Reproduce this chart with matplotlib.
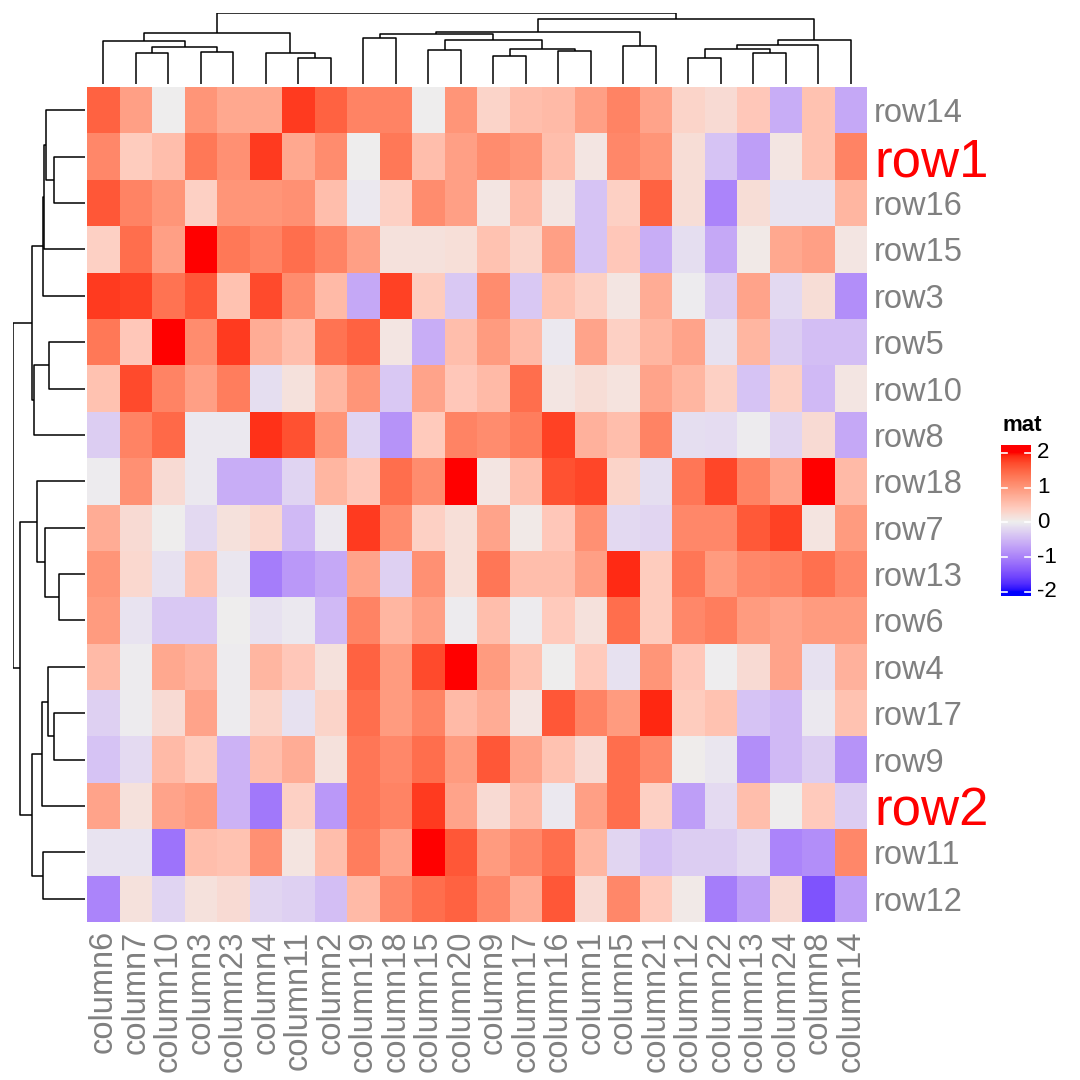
import numpy as np
import matplotlib
matplotlib.use("Agg")
import matplotlib.pyplot as plt
from matplotlib.colors import ListedColormap

plt.rcParams['font.family'] = ['Liberation Sans', 'DejaVu Sans']

# labels in the order they are shown (after clustering)
row_labels = ['row14', 'row1', 'row16', 'row15', 'row3', 'row5', 'row10', 'row8', 'row18',
              'row7', 'row13', 'row6', 'row4', 'row17', 'row9', 'row2', 'row11', 'row12']
col_labels = ['column6', 'column7', 'column10', 'column3', 'column23', 'column4', 'column11',
              'column2', 'column19', 'column18', 'column15', 'column20', 'column9', 'column17',
              'column16', 'column1', 'column5', 'column21', 'column12', 'column22', 'column13',
              'column24', 'column8', 'column14']
highlight = ['row1', 'row2']

mat = [
    [1.5, 0.9, 0.0, 1.0, 0.8, 0.8, 1.8, 1.5, 1.2, 1.2, 0.0, 1.0, 0.3, 0.55, 0.6, 0.9, 1.2, 0.85, 0.3, 0.22, 0.45, -0.6, 0.5, -0.65],
    [1.15, 0.4, 0.55, 1.3, 1.05, 1.8, 0.8, 1.1, 0.0, 1.3, 0.55, 0.9, 1.1, 1.0, 0.55, 0.1, 1.15, 1.0, 0.2, -0.4, -0.75, 0.1, 0.5, 1.2],
    [1.6, 1.2, 1.0, 0.35, 1.0, 1.0, 1.05, 0.55, -0.05, 0.35, 1.1, 0.9, 0.1, 0.6, 0.1, -0.4, 0.35, 1.5, 0.2, -1.0, 0.2, -0.1, -0.1, 0.65],
    [0.35, 1.4, 0.9, 2.0, 1.3, 1.2, 1.4, 1.2, 0.9, 0.15, 0.15, 0.18, 0.5, 0.3, 0.9, -0.4, 0.45, -0.6, -0.15, -0.65, 0.05, 0.8, 0.9, 0.1],
    [1.8, 1.75, 1.35, 1.6, 0.5, 1.7, 1.1, 0.6, -0.65, 1.75, 0.4, -0.35, 1.1, -0.35, 0.5, 0.35, 0.1, 0.75, -0.02, -0.3, 0.85, -0.2, 0.2, -0.9],
    [1.3, 0.45, 2.0, 1.1, 1.8, 0.75, 0.55, 1.35, 1.5, 0.1, -0.6, 0.55, 0.95, 0.6, -0.05, 0.85, 0.35, 0.65, 0.85, -0.12, 0.65, -0.3, -0.45, -0.45],
    [0.5, 1.7, 1.2, 0.9, 1.25, -0.15, 0.15, 0.65, 1.0, -0.35, 0.85, 0.45, 0.6, 1.4, 0.1, 0.2, 0.13, 0.85, 0.65, 0.35, -0.4, 0.35, -0.5, 0.1],
    [-0.3, 1.2, 1.45, -0.05, -0.05, 1.85, 1.65, 1.0, -0.25, -0.85, 0.42, 1.2, 1.1, 1.25, 1.75, 0.7, 0.55, 1.2, -0.15, -0.17, -0.02, -0.22, 0.22, -0.65],
    [-0.03, 1.05, 0.22, -0.05, -0.6, -0.6, -0.25, 0.65, 0.45, 1.4, 1.1, 2.0, 0.1, 0.55, 1.65, 1.72, 0.3, -0.15, 1.32, 1.72, 1.2, 0.85, 2.0, 0.6],
    [0.75, 0.22, 0.0, -0.2, 0.15, 0.25, -0.5, -0.05, 1.8, 1.1, 0.35, 0.18, 0.85, 0.05, 0.45, 1.05, -0.2, -0.23, 1.15, 1.15, 1.58, 1.75, 0.12, 0.95],
    [1.0, 0.25, -0.12, 0.5, -0.07, -1.05, -0.8, -0.65, 0.85, -0.28, 1.05, 0.18, 1.32, 0.55, 0.55, 0.9, 1.88, 0.4, 1.32, 0.95, 1.15, 1.2, 1.38, 1.15],
    [0.95, -0.1, -0.35, -0.35, 0.0, -0.12, -0.06, -0.5, 1.2, 0.65, 0.9, -0.03, 0.55, -0.02, 0.42, 0.15, 1.4, 0.4, 1.15, 1.25, 0.95, 0.85, 0.95, 0.95],
    [0.6, -0.02, 0.8, 0.7, -0.02, 0.65, 0.45, 0.15, 1.5, 0.95, 1.7, 2.0, 0.95, 0.5, 0.0, 0.42, -0.12, 1.0, 0.45, -0.01, 0.22, 0.85, -0.12, 0.7],
    [-0.28, -0.03, 0.22, 0.85, -0.03, 0.3, -0.12, 0.3, 1.4, 0.95, 1.2, 0.6, 0.75, 0.1, 1.6, 1.2, 0.95, 1.9, 0.4, 0.5, -0.4, -0.5, -0.05, 0.5],
    [-0.4, -0.18, 0.6, 0.4, -0.55, 0.55, 0.75, 0.15, 1.32, 1.15, 1.4, 0.95, 1.6, 0.85, 0.5, 0.22, 1.4, 1.15, 0.02, -0.07, -0.9, -0.5, -0.3, -0.85],
    [0.85, 0.15, 0.85, 0.95, -0.55, -1.1, 0.35, -0.8, 1.32, 1.2, 1.8, 0.85, 0.22, 0.6, -0.05, 0.9, 1.4, 0.35, -0.75, -0.18, 0.55, 0.0, 0.42, -0.3],
    [-0.1, -0.1, -1.15, 0.55, 0.5, 1.05, 0.12, 0.55, 1.25, 0.85, 2.0, 1.6, 0.95, 1.15, 1.4, 0.65, -0.22, -0.42, -0.3, -0.3, -0.2, -1.0, -0.9, 1.15],
    [-1.0, 0.15, -0.25, 0.15, 0.22, -0.22, -0.27, -0.45, 0.6, 1.15, 1.4, 1.5, 1.15, 0.75, 1.6, 0.22, 1.15, 0.42, 0.05, -1.05, -0.75, 0.22, -1.45, -0.75],
]

# dendrogram merges: (left, right, height); leaves are display positions,
# new nodes get ids n, n+1, ... like a linkage matrix
col_merges = [
    (1, 2, 31.7), (3, 4, 32.0), (24, 25, 37.7), (0, 26, 43.7), (6, 7, 26.7),
    (5, 28, 31.0), (27, 29, 51.0), (8, 9, 46.3), (10, 11, 34.3), (12, 13, 28.7),
    (14, 15, 33.3), (33, 34, 35.0), (32, 35, 44.0), (31, 36, 50.0), (16, 17, 38.7),
    (37, 38, 52.0), (18, 19, 26.7), (20, 21, 31.7), (40, 41, 35.7), (42, 22, 39.0),
    (43, 23, 44.3), (39, 44, 65.3), (30, 45, 71.0),
]
row_merges = [
    (1, 2, 30.7), (0, 18, 39.3), (19, 3, 40.7), (20, 4, 42.3), (5, 6, 35.7),
    (22, 7, 51.3), (21, 23, 52.7), (10, 11, 26.0), (9, 25, 40.0), (8, 26, 48.3),
    (13, 14, 31.0), (12, 28, 36.7), (29, 15, 43.3), (16, 17, 42.3), (30, 31, 53.3),
    (27, 32, 65.0), (24, 33, 71.7),
]


def srgb_to_lab(c):
    c = np.asarray(c, float)
    lin = np.where(c <= 0.04045, c / 12.92, ((c + 0.055) / 1.055) ** 2.4)
    M = np.array([[0.4124564, 0.3575761, 0.1804375],
                  [0.2126729, 0.7151522, 0.0721750],
                  [0.0193339, 0.1191920, 0.9503041]])
    t = (M @ lin) / np.array([0.95047, 1.0, 1.08883])
    d = 6 / 29
    f = np.where(t > d ** 3, np.cbrt(t), t / (3 * d * d) + 4 / 29)
    return np.array([116 * f[1] - 16, 500 * (f[0] - f[1]), 200 * (f[1] - f[2])])


def lab_to_srgb(lab):
    L, a, b = lab
    fy = (L + 16) / 116
    f = np.array([fy + a / 500, fy, fy - b / 200])
    d = 6 / 29
    t = np.where(f > d, f ** 3, 3 * d * d * (f - 4 / 29)) * np.array([0.95047, 1.0, 1.08883])
    Minv = np.array([[3.2404542, -1.5371385, -0.4985314],
                     [-0.9692660, 1.8760108, 0.0415560],
                     [0.0556434, -0.2040259, 1.0572252]])
    lin = np.clip(Minv @ t, 0, 1)
    c = np.where(lin <= 0.0031308, 12.92 * lin, 1.055 * lin ** (1 / 2.4) - 0.055)
    return np.clip(c, 0, 1)


def lab_ramp(colors, n=256):
    labs = [srgb_to_lab(c) for c in colors]
    out = []
    for t in np.linspace(0, 1, n):
        seg = min(int(t * (len(labs) - 1)), len(labs) - 2)
        u = t * (len(labs) - 1) - seg
        out.append(lab_to_srgb(labs[seg] + u * (labs[seg + 1] - labs[seg])))
    return ListedColormap(out)


cmap = lab_ramp([(0, 0, 1), (0xEE / 255,) * 3, (1, 0, 0)])


def dendro_segments(merges, n):
    pos = {i: i + 0.5 for i in range(n)}
    hgt = {i: 0.0 for i in range(n)}
    segs = []
    for k, (a, b, h) in enumerate(merges):
        segs.append(([pos[a], pos[a], pos[b], pos[b]], [hgt[a], h, h, hgt[b]]))
        pos[n + k] = (pos[a] + pos[b]) / 2
        hgt[n + k] = h
    return segs


W = 1080.0
fig = plt.figure(figsize=(10.8, 10.8), dpi=100)


def px_axes(x0, y0, x1, y1):
    return fig.add_axes([x0 / W, 1 - y1 / W, (x1 - x0) / W, (y1 - y0) / W])


data = np.array(mat)
nr, nc = data.shape

# main heatmap
ax = px_axes(87, 87, 867, 922)
ax.pcolormesh(np.arange(nc + 1), np.arange(nr + 1), data, cmap=cmap, vmin=-2, vmax=2)
ax.set_xlim(0, nc)
ax.set_ylim(nr, 0)
for s in ax.spines.values():
    s.set_visible(False)
ax.yaxis.tick_right()
ax.set_yticks(np.arange(nr) + 0.5)
ax.set_yticklabels(row_labels)
ax.set_xticks(np.arange(nc) + 0.5)
ax.set_xticklabels(col_labels, rotation=90)
ax.tick_params(length=0, pad=6, labelsize=23.5, labelcolor='#808080')
ax.tick_params(axis='y', pad=5)
for lab in ax.get_yticklabels():
    if lab.get_text() in highlight:
        lab.set_color('red')
        lab.set_fontsize(38)

# column dendrogram
axc = px_axes(87, 13, 867, 84.3)
for xs, ys in dendro_segments(col_merges, nc):
    axc.plot(xs, ys, color='black', lw=1.1, solid_capstyle='butt')
axc.set_xlim(0, nc)
axc.set_ylim(0, 71.3)
axc.axis('off')

# row dendrogram
axr = px_axes(13, 87, 85, 922)
for ys, xs in dendro_segments(row_merges, nr):
    axr.plot(xs, ys, color='black', lw=1.1, solid_capstyle='butt')
axr.set_ylim(nr, 0)
axr.set_xlim(72, 0)
axr.axis('off')

# legend
axl = px_axes(1001, 445, 1031, 596)
grad = np.linspace(-2.12, 2.23, 256).reshape(-1, 1)
axl.imshow(grad, cmap=cmap, vmin=-2, vmax=2, aspect='auto', origin='lower',
           extent=(0, 1, -2.12, 2.23))
axl.set_xlim(0, 1)
axl.set_ylim(-2.12, 2.23)
axl.axis('off')
for v in [-2, -1, 0, 1, 2]:
    axl.plot([0, 0.2], [v, v], color='white', lw=1.2)
    axl.plot([0.8, 1], [v, v], color='white', lw=1.2)
    axl.text(1.2, v, str(v), ha='left', va='center', fontsize=16,
             transform=axl.transData, clip_on=False)
fig.text(1002 / W, 1 - 426 / W, 'mat', fontsize=16, fontweight='bold', ha='left', va='center')

fig.savefig('out.png', dpi=100, facecolor='white')
